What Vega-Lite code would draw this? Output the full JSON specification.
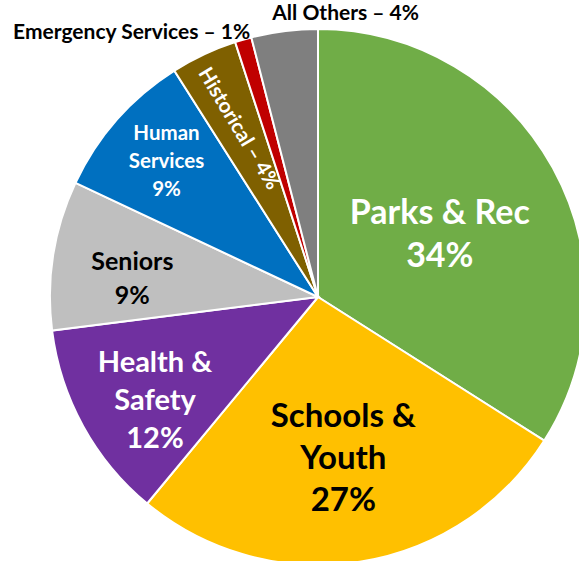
{
  "$schema": "https://vega.github.io/schema/vega-lite/v6.json",
  "autosize": {"type": "none"},
  "width": 536,
  "height": 536,
  "padding": {"left": 50, "top": 29, "right": 0, "bottom": 0},
  "background": "white",
  "view": {"stroke": null},
  "data": {"values": [
    {"cat": "Parks & Rec", "value": 34, "o": 1, "label": "Parks & Rec\n34%"},
    {"cat": "Schools & Youth", "value": 27, "o": 2, "label": "Schools &\nYouth\n27%"},
    {"cat": "Health & Safety", "value": 12, "o": 3, "label": "Health &\nSafety\n12%"},
    {"cat": "Seniors", "value": 9, "o": 4, "label": "Seniors\n9%"},
    {"cat": "Human Services", "value": 9, "o": 5, "label": "Human\nServices\n9%"},
    {"cat": "Historical", "value": 4, "o": 6, "label": "Historical – 4%"},
    {"cat": "Emergency Services", "value": 1, "o": 7, "label": "Emergency Services – 1%"},
    {"cat": "All Others", "value": 4, "o": 8, "label": "All Others – 4%"}
  ]},
  "encoding": {
    "theta": {"field": "value", "type": "quantitative", "stack": true},
    "order": {"field": "o", "type": "quantitative"}
  },
  "layer": [
    {
      "mark": {"type": "arc", "stroke": "white", "strokeWidth": 2},
      "encoding": {
        "color": {"field": "cat", "type": "nominal", "legend": null,
          "scale": {"domain": ["Parks & Rec", "Schools & Youth", "Health & Safety", "Seniors", "Human Services", "Historical", "Emergency Services", "All Others"],
                    "range": ["#70AD47", "#FFC000", "#7030A0", "#BFBFBF", "#0070C0", "#7F6000", "#C00000", "#7F7F7F"]}}
      }
    },
    {
      "mark": {"type": "text", "radius": 139, "dy": -16, "font": "Lato", "fontWeight": "bold", "fontSize": 34, "color": "white", "lineBreak": "\n", "lineHeight": 43, "align": "center", "baseline": "middle"},
      "encoding": {"text": {"condition": {"test": "datum.cat === 'Parks & Rec'", "field": "label"}, "value": ""}}
    },
    {
      "mark": {"type": "text", "radius": 162, "dy": -40, "font": "Lato", "fontWeight": "bold", "fontSize": 33, "color": "black", "lineBreak": "\n", "lineHeight": 42, "align": "center", "baseline": "middle"},
      "encoding": {"text": {"condition": {"test": "datum.cat === 'Schools & Youth'", "field": "label"}, "value": ""}}
    },
    {
      "mark": {"type": "text", "radius": 186, "dy": -24, "font": "Lato", "fontWeight": "bold", "fontSize": 29, "color": "white", "lineBreak": "\n", "lineHeight": 38, "align": "center", "baseline": "middle"},
      "encoding": {"text": {"condition": {"test": "datum.cat === 'Health & Safety'", "field": "label"}, "value": ""}}
    },
    {
      "mark": {"type": "text", "radius": 188, "dy": -6, "font": "Lato", "fontWeight": "bold", "fontSize": 25, "color": "black", "lineBreak": "\n", "lineHeight": 34, "align": "center", "baseline": "middle"},
      "encoding": {"text": {"condition": {"test": "datum.cat === 'Seniors'", "field": "label"}, "value": ""}}
    },
    {
      "mark": {"type": "text", "radius": 202, "dy": -29, "font": "Lato", "fontWeight": "bold", "fontSize": 20.5, "color": "white", "lineBreak": "\n", "lineHeight": 28, "align": "center", "baseline": "middle"},
      "encoding": {"text": {"condition": {"test": "datum.cat === 'Human Services'", "field": "label"}, "value": ""}}
    },
    {
      "mark": {"type": "text", "radius": 182, "dx": -4, "angle": 59, "font": "Lato", "fontWeight": "bold", "fontSize": 20.5, "color": "white", "align": "center", "baseline": "middle"},
      "encoding": {"text": {"condition": {"test": "datum.cat === 'Historical'", "field": "label"}, "value": ""}}
    },
    {
      "mark": {"type": "text", "radius": 275, "dx": 9, "font": "Lato", "fontWeight": "bold", "fontSize": 21, "color": "black", "align": "right", "baseline": "middle"},
      "encoding": {"text": {"condition": {"test": "datum.cat === 'Emergency Services'", "field": "label"}, "value": ""}}
    },
    {
      "mark": {"type": "text", "radius": 285, "dx": -10, "font": "Lato", "fontWeight": "bold", "fontSize": 21, "color": "black", "align": "left", "baseline": "middle"},
      "encoding": {"text": {"condition": {"test": "datum.cat === 'All Others'", "field": "label"}, "value": ""}}
    }
  ]
}
